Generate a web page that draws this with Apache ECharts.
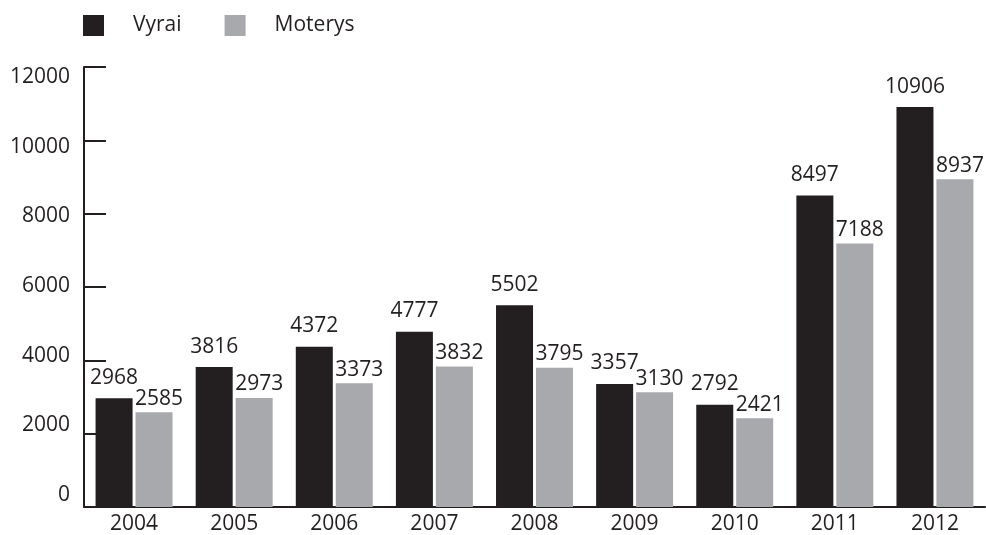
<!DOCTYPE html>
<html><head><meta charset="utf-8">
<script src="https://cdn.jsdelivr.net/npm/echarts@6/dist/echarts.min.js"></script>
<style>html,body{margin:0;padding:0;background:#fff}#c{width:986px;height:535px}</style>
</head><body><div id="c"></div>
<script>
const years = ['2004','2005','2006','2007','2008','2009','2010','2011','2012'];
const vyrai = [2968,3816,4372,4777,5502,3357,2792,8497,10906];
const moterys = [2585,2973,3373,3832,3795,3130,2421,7188,8937];
const seriesNames = ['Vyrai','Moterys'];
const yMin = 0, yMax = 12000, yStep = 2000;

const dark = '#231f20', grey = '#a7a9ac';
const font = 'Open Sans';
const fs = 21;
const chart = echarts.init(document.getElementById('c'));
chart.setOption({
  animation:false,
  textStyle:{fontFamily:font,color:dark},
  legend:{left:78,top:10,itemWidth:21,itemHeight:21,itemGap:43,
    icon:'rect',
    textStyle:{fontFamily:font,fontSize:fs,color:dark,padding:[0,0,0,24]},
    data:seriesNames},
  grid:[{left:84,top:67,right:1,bottom:26},{left:84,top:77,right:1,bottom:40}],
  xAxis:[{type:'category',data:years,gridIndex:0,
    axisLine:{lineStyle:{color:dark,width:2}},
    axisTick:{inside:true,length:9,lineStyle:{color:dark,width:2}},
    axisLabel:{fontFamily:font,fontSize:fs,color:dark,margin:7}},
    {type:'category',data:years,gridIndex:1,show:false}],
  yAxis:[{type:'value',min:yMin,max:yMax,interval:yStep,gridIndex:0,
    axisLine:{show:true,lineStyle:{color:dark,width:2}},
    axisTick:{show:true,inside:true,length:22,lineStyle:{color:dark,width:2}},
    axisLabel:{show:false},splitLine:{show:false}},
    {type:'value',min:yMin,max:yMax,interval:yStep,gridIndex:1,
    axisLine:{show:false},axisTick:{show:false},splitLine:{show:false},
    axisLabel:{fontFamily:font,fontSize:fs,color:dark,margin:14,formatter:v=>String(v)}}],
  series:[
    {name:seriesNames[0],type:'bar',data:vyrai,barWidth:37,barGap:'8%',
     itemStyle:{color:dark},
     label:{show:true,position:'top',distance:10,fontFamily:font,fontSize:fs,color:dark}},
    {name:seriesNames[1],type:'bar',data:moterys,barWidth:37,barGap:'8%',
     itemStyle:{color:grey},
     label:{show:true,position:'top',distance:3,offset:[5,0],fontFamily:font,fontSize:fs,color:dark}}
  ]
});
</script></body></html>
